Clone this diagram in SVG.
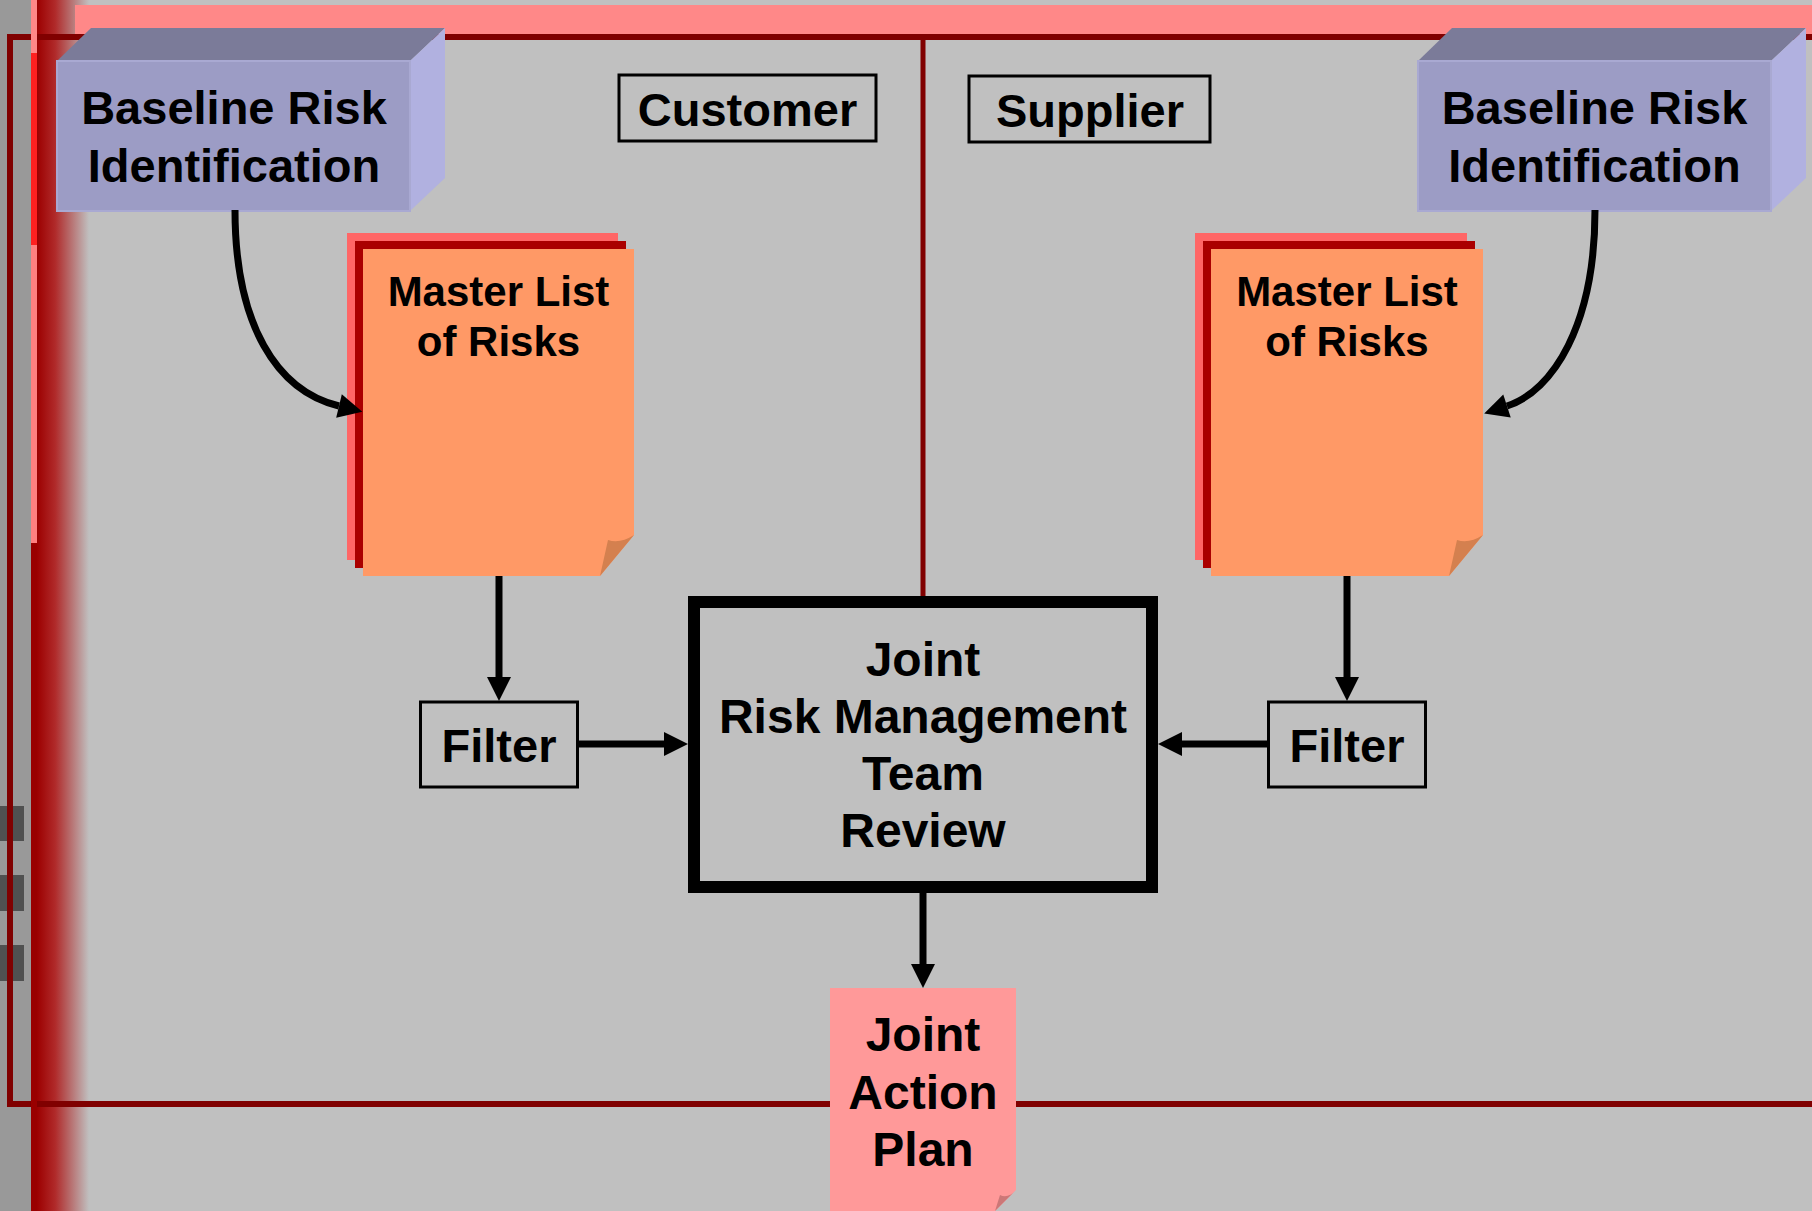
<svg xmlns="http://www.w3.org/2000/svg" width="1812" height="1211" viewBox="0 0 1812 1211">
  <style>
    .lbl{font-family:"Liberation Sans",Arial,Helvetica,sans-serif;font-weight:bold;fill:#000;text-anchor:middle}
    .f47{font-size:47px}
    .f48{font-size:48px}
    .f42{font-size:42px}
    .frame{fill:none;stroke:#800000;stroke-width:6}
    .box3d-front{fill:#9c9cc5;stroke:#a9a9d2;stroke-width:2}
    .box3d-top{fill:#7b7b99}
    .box3d-side{fill:#b1b1e0}
    .sheet-back{fill:#ff6666}
    .sheet-mid{fill:#aa0000}
    .sheet-front{fill:#ff9966}
    .sheet-fold{fill:#d4804f}
    .tag{fill:none;stroke:#000;stroke-width:3}
    .wire{fill:none;stroke:#000;stroke-width:7}
  </style>
  <defs>
    <linearGradient id="edgeFade" x1="0" y1="0" x2="1" y2="0">
      <stop offset="0" stop-color="#9c0000"/>
      <stop offset="0.35" stop-color="#b02a2a"/>
      <stop offset="1" stop-color="#c0c0c0"/>
    </linearGradient>
    <marker id="head" markerUnits="userSpaceOnUse" markerWidth="30" markerHeight="30" refX="0" refY="12" orient="auto" overflow="visible">
      <path d="M0,0 L24,12 L0,24 Z" fill="#000"/>
    </marker>
  </defs>

  <!-- page background and side decoration -->
  <g id="background">
    <rect x="0" y="0" width="1812" height="1211" fill="#c0c0c0"/>
    <rect x="0" y="0" width="31" height="1211" fill="#999999"/>
    <rect x="0" y="806" width="24" height="35" fill="#505050"/>
    <rect x="0" y="875" width="24" height="36" fill="#505050"/>
    <rect x="0" y="945" width="24" height="36" fill="#505050"/>
    <rect x="37" y="0" width="52" height="1211" fill="url(#edgeFade)"/>
    <rect x="75" y="5" width="1737" height="29" fill="#ff8888"/>
  </g>

  <!-- customer / supplier frame -->
  <g id="frame">
    <rect class="frame" x="10" y="37" width="1830" height="1067"/>
    <line x1="923" y1="37" x2="923" y2="600" stroke="#800000" stroke-width="5"/>
    <rect x="31" y="0" width="6" height="53" fill="#ff8888"/>
    <rect x="31" y="53" width="6" height="192" fill="#ff2020"/>
    <rect x="31" y="245" width="6" height="298" fill="#ff8080"/>
    <rect x="31" y="543" width="6" height="668" fill="#990000"/>
  </g>

  <g id="customer-label">
    <rect class="tag" x="619" y="75" width="257" height="66"/>
    <text class="lbl f47" x="747.5" y="126">Customer</text>
  </g>

  <g id="supplier-label">
    <rect class="tag" x="969" y="76" width="241" height="66"/>
    <text class="lbl f47" x="1090" y="127">Supplier</text>
  </g>

  <g id="baseline-customer">
    <polygon class="box3d-top" points="57,61 91,28 445,28 410,61"/>
    <polygon class="box3d-side" points="410,61 445,28 445,178 410,211"/>
    <rect class="box3d-front" x="57" y="61" width="353" height="150"/>
    <text class="lbl f47" x="234" y="124">Baseline Risk</text>
    <text class="lbl f47" x="234" y="182">Identification</text>
  </g>

  <g id="baseline-supplier">
    <polygon class="box3d-top" points="1418,61 1452,28 1806,28 1771,61"/>
    <polygon class="box3d-side" points="1771,61 1806,28 1806,178 1771,211"/>
    <rect class="box3d-front" x="1418" y="61" width="353" height="150"/>
    <text class="lbl f47" x="1594.5" y="124">Baseline Risk</text>
    <text class="lbl f47" x="1594.5" y="182">Identification</text>
  </g>

  <!-- stacked pages, each with a dog-eared lower right corner -->
  <g id="master-customer">
    <path class="sheet-back" d="M347,233 H618 V519 L584,560 H347 Z"/>
    <path class="sheet-mid" d="M355,241 H626 V527 L592,568 H355 Z"/>
    <path class="sheet-front" d="M363,249 H634 V535 L600,576 H363 Z"/>
    <path class="sheet-fold" d="M634,535 L600,576 L608,540 Q620,544 634,535 Z"/>
    <text class="lbl f42" x="498.5" y="306">Master List</text>
    <text class="lbl f42" x="498.5" y="356">of Risks</text>
  </g>

  <g id="master-supplier">
    <path class="sheet-back" d="M1195,233 H1467 V519 L1433,560 H1195 Z"/>
    <path class="sheet-mid" d="M1203,241 H1475 V527 L1441,568 H1203 Z"/>
    <path class="sheet-front" d="M1211,249 H1483 V535 L1449,576 H1211 Z"/>
    <path class="sheet-fold" d="M1483,535 L1449,576 L1457,540 Q1469,544 1483,535 Z"/>
    <text class="lbl f42" x="1347" y="306">Master List</text>
    <text class="lbl f42" x="1347" y="356">of Risks</text>
  </g>

  <g id="filter-customer">
    <rect class="tag" x="420.5" y="702" width="157" height="85"/>
    <text class="lbl f47" x="499" y="762">Filter</text>
  </g>

  <g id="filter-supplier">
    <rect class="tag" x="1268.5" y="702" width="157" height="85"/>
    <text class="lbl f47" x="1347" y="762">Filter</text>
  </g>

  <g id="joint-review">
    <rect x="694" y="602" width="458" height="285" fill="none" stroke="#000" stroke-width="12"/>
    <text class="lbl f48" x="923" y="676">Joint</text>
    <text class="lbl f48" x="923" y="733">Risk Management</text>
    <text class="lbl f48" x="923" y="790">Team</text>
    <text class="lbl f48" x="923" y="847">Review</text>
  </g>

  <g id="joint-action-plan">
    <path d="M830,988 H1016 V1190 L995,1211 H830 Z" fill="#ff9999"/>
    <path d="M1016,1190 L995,1211 L1000,1195 Q1008,1199 1016,1190 Z" fill="#cc7777"/>
    <text class="lbl f48" x="923" y="1051">Joint</text>
    <text class="lbl f48" x="923" y="1109">Action</text>
    <text class="lbl f48" x="923" y="1166">Plan</text>
  </g>

  <!-- flow connectors -->
  <g id="connectors">
    <path class="wire" d="M235,210 C235,325 277,391 339,406" marker-end="url(#head)"/>
    <path class="wire" d="M1595,210 C1595,325 1553,391 1507,406" marker-end="url(#head)"/>
    <path class="wire" d="M499,576 V677" marker-end="url(#head)"/>
    <path class="wire" d="M1347,576 V677" marker-end="url(#head)"/>
    <path class="wire" d="M578,744 H664" marker-end="url(#head)"/>
    <path class="wire" d="M1267,744 H1182" marker-end="url(#head)"/>
    <path class="wire" d="M923,893 V964" marker-end="url(#head)"/>
  </g>
</svg>
